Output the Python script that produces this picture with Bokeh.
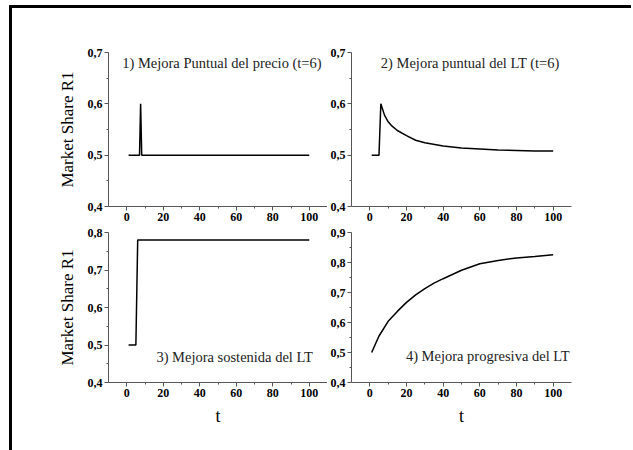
from bokeh.plotting import figure
from bokeh.layouts import gridplot
from bokeh.models import Range1d, FixedTicker, CustomJSTickFormatter, Label
from bokeh.embed import file_html
from bokeh.resources import INLINE

# ---- data ----
t1 = [1, 7, 7.6, 8.2, 100]
v1 = [0.5, 0.5, 0.6, 0.5, 0.5]

t2 = [1, 5, 6, 8, 10, 12, 15, 20, 25, 30, 40, 50, 60, 70, 80, 90, 100]
v2 = [0.5, 0.5, 0.6, 0.578, 0.565, 0.557, 0.548, 0.538, 0.529, 0.524,
      0.518, 0.514, 0.512, 0.510, 0.509, 0.508, 0.508]

t3 = [1, 5, 6, 100]
v3 = [0.5, 0.5, 0.78, 0.78]

t4 = [1, 5, 10, 15, 20, 25, 30, 35, 40, 50, 60, 70, 80, 90, 100]
v4 = [0.5, 0.555, 0.604, 0.637, 0.667, 0.692, 0.713, 0.731, 0.746, 0.774,
      0.796, 0.807, 0.815, 0.820, 0.826]

x_ticks = [0, 20, 40, 60, 80, 100]
x_minor = [10, 30, 50, 70, 90]
y_ticks_top = [0.4, 0.5, 0.6, 0.7]
y_ticks_p3 = [0.4, 0.5, 0.6, 0.7, 0.8]
y_ticks_p4 = [0.4, 0.5, 0.6, 0.7, 0.8, 0.9]

titles = ["1) Mejora Puntual del precio (t=6)",
          "2) Mejora puntual del LT (t=6)",
          "3) Mejora sostenida del LT",
          "4) Mejora progresiva del LT"]
y_label = "Market Share R1"
x_label = "t"

SERIF = "Liberation Serif"


def make(ts, vs, yticks, fw, fh, mbl, mbr, mbt, mbb, ylab=None, xlab=None):
    p = figure(x_range=Range1d(-10, 110), y_range=Range1d(yticks[0], yticks[-1]),
               frame_width=fw, frame_height=fh,
               min_border_left=mbl, min_border_right=mbr,
               min_border_top=mbt, min_border_bottom=mbb,
               output_backend="svg", toolbar_location=None)
    p.outline_line_color = None
    p.grid.visible = False
    p.background_fill_color = "white"
    p.border_fill_color = "white"
    p.line(ts, vs, line_color="black", line_width=1.5)

    minor_y = [round((a + b) / 2, 3) for a, b in zip(yticks[:-1], yticks[1:])]
    p.xaxis.ticker = FixedTicker(ticks=x_ticks, minor_ticks=x_minor)
    p.yaxis.ticker = FixedTicker(ticks=yticks, minor_ticks=minor_y)
    p.yaxis.formatter = CustomJSTickFormatter(code="return tick.toFixed(1).replace('.', ',');")
    for ax in (p.xaxis, p.yaxis):
        ax.axis_line_color = "#555555"
        ax.major_tick_line_color = "#555555"
        ax.minor_tick_line_color = "#555555"
        ax.major_tick_in = 0
        ax.major_tick_out = 4
        ax.minor_tick_in = 0
        ax.minor_tick_out = 2
        ax.major_label_text_font = SERIF
        ax.major_label_text_font_style = "bold"
        ax.major_label_text_font_size = "12px"
        ax.major_label_text_color = "black"
        ax.major_label_standoff = 2
        ax.axis_label_text_font = SERIF
        ax.axis_label_text_font_style = "normal"
        ax.axis_label_text_color = "black"
    if ylab:
        p.yaxis.axis_label = ylab
        p.yaxis.axis_label_text_font_size = "17px"
        p.yaxis.axis_label_standoff = 8
    if xlab:
        p.xaxis.axis_label = xlab
        p.xaxis.axis_label_text_font_size = "18px"
        p.xaxis.axis_label_standoff = 6
    return p


p1 = make(t1, v1, y_ticks_top, 219, 154, 96, 0, 44, 18, ylab=y_label)
p2 = make(t2, v2, y_ticks_top, 220, 154, 21, 60, 44, 18)
p3 = make(t3, v3, y_ticks_p3, 219, 150, 96, 0, 8, 68, ylab=y_label, xlab=x_label)
p4 = make(t4, v4, y_ticks_p4, 220, 150, 21, 60, 8, 68, xlab=x_label)

lab_kw = dict(text_font=SERIF, text_font_size="14.5px", text_color="#222222",
              text_baseline="middle")
p1.add_layout(Label(x=-2.5, y=0.68, text=titles[0], text_align="left", **lab_kw))
p2.add_layout(Label(x=6, y=0.68, text=titles[1], text_align="left", **lab_kw))
p3.add_layout(Label(x=102, y=0.467, text=titles[2], text_align="right", **lab_kw))
p4.add_layout(Label(x=109, y=0.49, text=titles[3], text_align="right", **lab_kw))

grid = gridplot([[p1, p2], [p3, p4]], toolbar_location=None)
grid.margin = (5, 0, 0, 9)
grid.styles = {"border-top": "3px solid black", "border-left": "3px solid black",
               "background-color": "white"}

open("out.html", "w").write(file_html(grid, INLINE))
